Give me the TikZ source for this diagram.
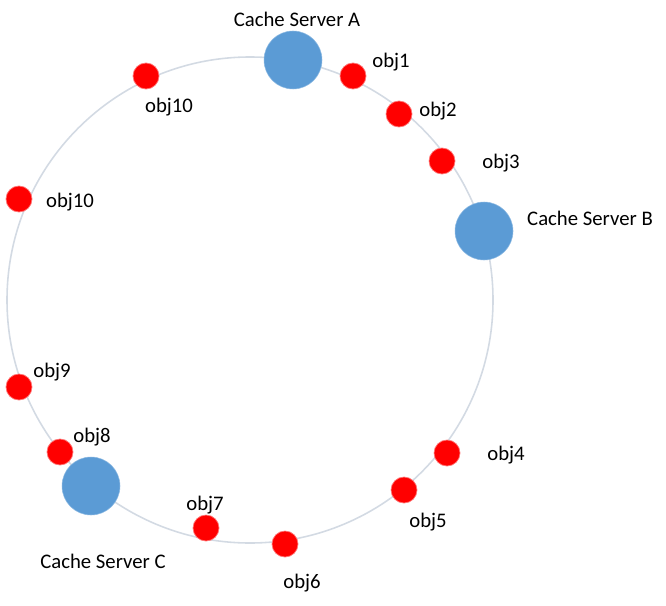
\documentclass[tikz,border=0pt]{standalone}
\usepackage{fontspec}
\setmainfont{Carlito}
\usetikzlibrary{positioning}
\definecolor{ringgray}{HTML}{D3DAE3}
\definecolor{serverblue}{HTML}{5B9BD5}
\definecolor{objred}{HTML}{FF0000}
\tikzset{
    server/.style={circle, fill=serverblue, draw=serverblue!70, line width=0.3pt, minimum size=1.16cm, inner sep=0pt},
    obj/.style={circle, fill=objred, draw=objred!55, line width=0.4pt, minimum size=0.52cm, inner sep=0pt},
    lbl/.style={anchor=base, inner sep=0pt, font=\fontsize{11.8}{14}\selectfont}
}
\begin{document}
\begin{tikzpicture}
    \useasboundingbox (0,0) rectangle (13.32,-12.1);
    \def \R {4.86}
    \coordinate (ctr) at (5.0,-6.0);
    \draw[ringgray, line width=0.9pt] (ctr) circle [radius=\R];
    % cache servers
    \node[server] (sA) at (5.86,-1.20) {};
    \node[server] (sB) at (9.68,-4.62) {};
    \node[server] (sC) at (1.82,-9.72) {};
    % objects
    \node[obj] (o1) at (7.06,-1.52) {};
    \node[obj] (o2) at (7.98,-2.28) {};
    \node[obj] (o3) at (8.84,-3.22) {};
    \node[obj] (o4) at (8.94,-9.06) {};
    \node[obj] (o5) at (8.08,-9.80) {};
    \node[obj] (o6) at (5.70,-10.88) {};
    \node[obj] (o7) at (4.12,-10.56) {};
    \node[obj] (o8) at (1.20,-9.04) {};
    \node[obj] (o9) at (0.38,-7.74) {};
    \node[obj] (o10) at (0.38,-3.98) {};
    \node[obj] (o11) at (2.92,-1.52) {};
    % labels
    \node[lbl] (lA) at (5.94,-0.54) {Cache Server A};
    \node[lbl] (lB) at (11.80,-4.50) {Cache Server B};
    \node[lbl] (lC) at (2.06,-11.36) {Cache Server C};
    \node[lbl] (l1) at (7.82,-1.36) {obj1};
    \node[lbl] (l2) at (8.76,-2.34) {obj2};
    \node[lbl] (l3) at (10.02,-3.36) {obj3};
    \node[lbl] (l4) at (10.12,-9.20) {obj4};
    \node[lbl] (l5) at (8.56,-10.54) {obj5};
    \node[lbl] (l6) at (6.04,-11.76) {obj6};
    \node[lbl] (l7) at (4.10,-10.20) {obj7};
    \node[lbl] (l8) at (1.84,-8.84) {obj8};
    \node[lbl] (l9) at (1.04,-7.54) {obj9};
    \node[lbl] (l10) at (1.40,-4.14) {obj10};
    \node[lbl] (l11) at (3.38,-2.26) {obj10};
\end{tikzpicture}
\end{document}
